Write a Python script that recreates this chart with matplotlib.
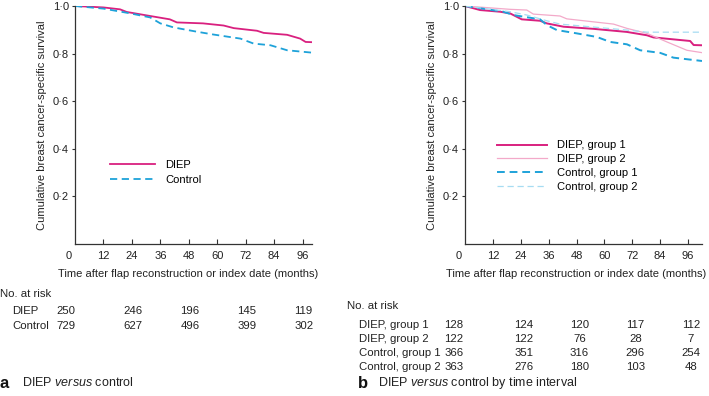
import matplotlib
matplotlib.use("Agg")
import matplotlib.pyplot as plt
import matplotlib.transforms as mtransforms

plt.rcParams['font.family'] = ['Liberation Sans', 'DejaVu Sans']
plt.rcParams['mathtext.fontset'] = 'custom'
plt.rcParams['mathtext.rm'] = 'Liberation Sans'
plt.rcParams['mathtext.it'] = 'Liberation Sans:italic'

# ---------------- data ----------------
# Panel a
diep_t = [0, 12, 19, 21.8, 31.7, 40, 43, 54, 62.7, 67, 76.8, 79.6, 89.5, 95, 97.3, 100]
diep_s = [1.0, 0.994, 0.986, 0.975, 0.958, 0.944, 0.931, 0.927, 0.918, 0.907, 0.896, 0.887, 0.879, 0.863, 0.849, 0.848]
ctrl_t = [0, 12, 23.3, 31.7, 36, 41.6, 51.4, 58.5, 69.8, 75.4, 82.5, 89.5, 100]
ctrl_s = [1.0, 0.989, 0.969, 0.952, 0.927, 0.910, 0.892, 0.880, 0.863, 0.842, 0.835, 0.814, 0.804]

# Panel b
d1_t = [0, 6.5, 15, 19.4, 24.4, 32.3, 35.2, 42.4, 55.3, 69.7, 78.3, 81.1, 96.9, 98.4, 102]
d1_s = [1.0, 0.983, 0.976, 0.969, 0.944, 0.938, 0.927, 0.913, 0.904, 0.891, 0.877, 0.868, 0.853, 0.836, 0.835]
d2_t = [0, 19.4, 26.6, 29.4, 40.9, 43.8, 63.9, 69.7, 78.3, 86.9, 95.5, 102]
d2_s = [1.0, 0.986, 0.983, 0.966, 0.958, 0.946, 0.924, 0.906, 0.885, 0.849, 0.814, 0.804]
c1_t = [0, 16.5, 20.8, 32.3, 35.2, 39.5, 48.1, 56.7, 62.5, 69.7, 75.4, 84, 89.7, 102]
c1_s = [1.0, 0.976, 0.962, 0.944, 0.920, 0.899, 0.885, 0.870, 0.849, 0.839, 0.814, 0.803, 0.783, 0.769]
c2_t = [0, 19.4, 26.6, 35.2, 40.9, 69.7, 78.3, 102]
c2_s = [1.0, 0.976, 0.962, 0.938, 0.924, 0.899, 0.890, 0.890]

risk_times = [0, 24, 48, 72, 96]
risk_a_labels = ['DIEP', 'Control']
risk_a = [[250, 246, 196, 145, 119],
          [729, 627, 496, 399, 302]]
risk_b_labels = ['DIEP, group 1', 'DIEP, group 2', 'Control, group 1', 'Control, group 2']
risk_b = [[128, 124, 120, 117, 112],
          [122, 122, 76, 28, 7],
          [366, 351, 316, 296, 254],
          [363, 276, 180, 103, 48]]

xticks = [12, 24, 36, 48, 60, 72, 84, 96]
yticks = [0.2, 0.4, 0.6, 0.8, 1.0]
ytick_labels = ['0·2', '0·4', '0·6', '0·8', '1·0']

MAG = '#d9207f'
PINK = '#f3a9c9'
BLUE = '#1ea2d9'
LBLUE = '#a6dcf2'
AXC = '#333333'
TXT = '#222222'

W, H = 709, 396
fig = plt.figure(figsize=(W / 100, H / 100), dpi=100)

FS = 8
TFS = 8.2


def px_x(x):
    return x / W


def px_y(y):
    return 1 - y / H


def setup_axis(ax, xmax, xlabel_x):
    ax.set_xlim(0, xmax)
    ax.set_ylim(0, 1.0)
    for s in ['top', 'right']:
        ax.spines[s].set_visible(False)
    for s in ['left', 'bottom']:
        ax.spines[s].set_color(AXC)
        ax.spines[s].set_linewidth(0.9)
    ax.set_xticks(xticks)
    ax.set_xticklabels([str(v) for v in xticks])
    ax.set_yticks(yticks)
    ax.set_yticklabels(ytick_labels)
    ax.tick_params(axis='x', direction='in', length=3.6, width=0.8, color=AXC,
                   labelsize=FS, pad=5, labelcolor=TXT)
    ax.tick_params(axis='y', direction='out', length=2.5, width=0.8, color=AXC,
                   labelsize=FS, pad=2, labelcolor=TXT)
    ax.annotate('0', xy=(0, 0), xycoords='data', xytext=(-2.5, -5), textcoords='offset points',
                ha='right', va='top', fontsize=FS, color=TXT, annotation_clip=False)
    ax.set_ylabel('Cumulative breast cancer-specific survival', fontsize=FS, color=TXT, labelpad=4)
    ax.set_xlabel('Time after flap reconstruction or index date (months)', fontsize=FS,
                  color=TXT, labelpad=4)
    ax.xaxis.set_label_coords(xlabel_x, -0.106)


# ---------------- panel a ----------------
axa = fig.add_axes([px_x(75), px_y(244), px_x(237), (244 - 6) / H])
setup_axis(axa, 100, 0.479)
axa.plot(diep_t, diep_s, color=MAG, lw=1.3, label='DIEP')
axa.plot(ctrl_t, ctrl_s, color=BLUE, lw=1.3, ls=(0, (4, 2.5)), label='Control')
axa.legend(loc='upper left', bbox_to_anchor=(0.148, 0.352), frameon=False, fontsize=FS,
           handlelength=4.05, handletextpad=0.9, labelspacing=0.4, borderpad=0, borderaxespad=0)

# ---------------- panel b ----------------
axb = fig.add_axes([px_x(465), px_y(244), px_x(237), (244 - 6) / H])
setup_axis(axb, 102, 0.468)
axb.plot(d1_t, d1_s, color=MAG, lw=1.4, label='DIEP, group 1')
axb.plot(d2_t, d2_s, color=PINK, lw=0.9, label='DIEP, group 2')
axb.plot(c1_t, c1_s, color=BLUE, lw=1.4, ls=(0, (4, 2.5)), label='Control, group 1')
axb.plot(c2_t, c2_s, color=LBLUE, lw=0.9, ls=(0, (5, 3)), label='Control, group 2')
axb.legend(loc='upper left', bbox_to_anchor=(0.135, 0.435), frameon=False, fontsize=FS,
           handlelength=4.5, handletextpad=0.9, labelspacing=0.35, borderpad=0, borderaxespad=0)

# ---------------- risk tables ----------------
def risk_table(ax, head_x, head_y, label_x, row_ys, labels, values, first_off, off):
    fig.text(px_x(head_x), px_y(head_y), 'No. at risk', ha='left', va='center', fontsize=TFS, color=TXT)
    tr = mtransforms.blended_transform_factory(ax.transData, fig.transFigure)
    for lab, vals, yy in zip(labels, values, row_ys):
        fig.text(px_x(label_x), px_y(yy), lab, ha='left', va='center', fontsize=TFS, color=TXT)
        for i, (t, v) in enumerate(zip(risk_times, vals)):
            if i == 0:
                ax.text(t + first_off, px_y(yy), str(v), transform=tr, ha='right', va='center',
                        fontsize=TFS, color=TXT)
            else:
                ax.text(t + off, px_y(yy), str(v), transform=tr, ha='center', va='center',
                        fontsize=TFS, color=TXT)


risk_table(axa, 0, 294, 12, [311, 326], risk_a_labels, risk_a, 0.3, 0.5)
risk_table(axb, 347, 306, 359, [325, 339, 353, 367], risk_b_labels, risk_b, -0.6, 1.3)

# ---------------- panel captions ----------------
fig.text(px_x(0), px_y(383), 'a', ha='left', va='center', fontsize=12, fontweight='bold', color='#111111')
fig.text(px_x(22), px_y(383), r'DIEP $\mathit{versus}$ control', ha='left', va='center', fontsize=9, color=TXT)
fig.text(px_x(358), px_y(383), 'b', ha='left', va='center', fontsize=12, fontweight='bold', color='#111111')
fig.text(px_x(378), px_y(383), r'DIEP $\mathit{versus}$ control by time interval', ha='left', va='center',
         fontsize=9, color=TXT)

fig.savefig('out.png', dpi=100)
